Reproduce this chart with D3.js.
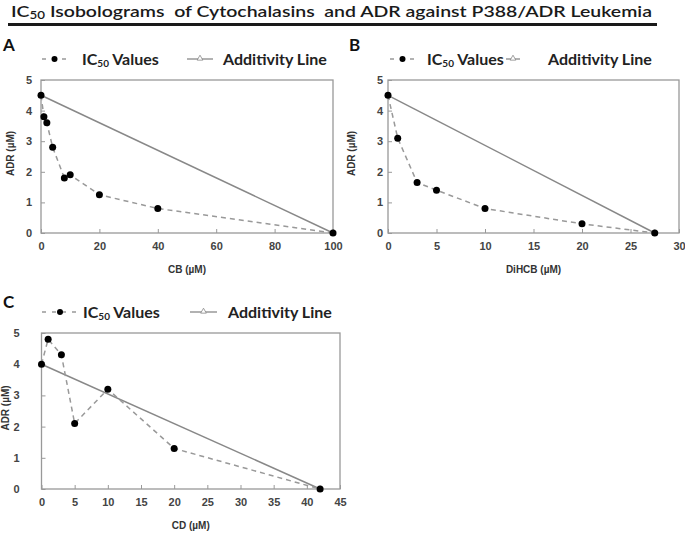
<!DOCTYPE html>
<html>
<head>
<meta charset="utf-8">
<script src="https://cdn.jsdelivr.net/npm/d3@7"></script>
<style>
  body { margin: 0; background: #fff; }
  svg { display: block; }
</style>
</head>
<body>
<div id="mydiv"></div>
<script>
// ---- data ----
var cbDose = [0, 1, 2, 4, 8, 10, 20, 40, 100];
var cbAdr = [4.5, 3.8, 3.6, 2.8, 1.8, 1.9, 1.25, 0.8, 0];
var cbAdditivityX = [0, 100];
var cbAdditivityY = [4.5, 0];

var dihcbDose = [0, 1, 3, 5, 10, 20, 27.5];
var dihcbAdr = [4.5, 3.1, 1.65, 1.4, 0.8, 0.3, 0];
var dihcbAdditivityX = [0, 27.5];
var dihcbAdditivityY = [4.5, 0];

var cdDose = [0, 1, 3, 5, 10, 20, 42];
var cdAdr = [4.0, 4.8, 4.3, 2.1, 3.2, 1.3, 0];
var cdAdditivityX = [0, 42];
var cdAdditivityY = [4.0, 0];

var cbTicks = [0, 20, 40, 60, 80, 100];
var dihcbTicks = [0, 5, 10, 15, 20, 25, 30];
var cdTicks = [0, 5, 10, 15, 20, 25, 30, 35, 40, 45];
var adrTicks = [0, 1, 2, 3, 4, 5];

var titleText = "Isobolograms  of Cytochalasins  and ADR against P388/ADR Leukemia";

var width = 685, height = 533;

var svg = d3.select("#mydiv").append("svg")
  .attr("width", width)
  .attr("height", height)
  .style("background-color", "white");

// title
var title = svg.append("text")
  .attr("x", 11)
  .attr("y", 17)
  .style("white-space", "pre")
  .style("font-family", "Lato, 'Open Sans', sans-serif")
  .style("font-weight", "600")
  .style("font-size", "16px")
  .style("fill", "#1a1a1a");
title.append("tspan").text("IC");
title.append("tspan").attr("dy", 2).style("font-size", "11px").text("50");
title.append("tspan").attr("dy", -2).text(" " + titleText);
title.attr("textLength", 641).attr("lengthAdjust", "spacingAndGlyphs");

svg.append("line")
  .attr("x1", 8).attr("x2", 657)
  .attr("y1", 24.5).attr("y2", 24.5)
  .attr("stroke", "#1a1a1a")
  .attr("stroke-width", 3);

var panels = [
  { letter: "A", lx: 3, ly: 51, left: 41, right: 333, top: 80, bottom: 233,
    xMax: 100, ticks: cbTicks, xName: "CB (\u00b5M)", dose: cbDose, adr: cbAdr,
    addX: cbAdditivityX, addY: cbAdditivityY, yLabelGap: 9, yTitleX: 10,
    legY: 59, leg: [42, 67, 82, 187, 213, 223] },
  { letter: "B", lx: 349, ly: 51, left: 388, right: 679, top: 80, bottom: 233,
    xMax: 30, ticks: dihcbTicks, xName: "DiHCB (\u00b5M)", dose: dihcbDose, adr: dihcbAdr,
    addX: dihcbAdditivityX, addY: dihcbAdditivityY, yLabelGap: 5, yTitleX: 351,
    legY: 59, leg: [390, 415, 427, 506, 520, 548] },
  { letter: "C", lx: 3, ly: 308, left: 41.5, right: 340, top: 333, bottom: 489,
    xMax: 45, ticks: cdTicks, xName: "CD (\u00b5M)", dose: cdDose, adr: cdAdr,
    addX: cdAdditivityX, addY: cdAdditivityY, yLabelGap: 22, yTitleX: 5,
    legY: 312, leg: [42, 78, 83, 190, 217, 228] }
];

panels.forEach(function(p) {
  var x = d3.scaleLinear().domain([0, p.xMax]).range([p.left, p.right]);
  var y = d3.scaleLinear().domain([0, 5]).range([p.bottom, p.top]);

  // panel letter
  svg.append("text")
    .attr("x", p.lx).attr("y", p.ly)
    .style("font-family", "Lato, 'Open Sans', sans-serif")
    .style("font-weight", "bold")
    .style("font-size", "17px")
    .style("fill", "#111")
    .text(p.letter);

  // legend
  var g = svg.append("g");
  var l = p.leg;
  g.append("line")
    .attr("x1", l[0]).attr("x2", l[1]).attr("y1", p.legY).attr("y2", p.legY)
    .attr("stroke", "#999").attr("stroke-width", 1.5).attr("stroke-dasharray", "4,6");
  g.append("circle")
    .attr("cx", (l[0] + l[1]) / 2).attr("cy", p.legY).attr("r", 3)
    .style("fill", "black");
  var t1 = g.append("text")
    .attr("x", l[2]).attr("y", p.legY + 6)
    .style("font-family", "Lato, 'Open Sans', sans-serif")
    .style("font-weight", "bold")
    .style("font-size", "16px")
    .style("fill", "#222");
  t1.append("tspan").text("IC");
  t1.append("tspan").attr("dy", 2).style("font-size", "10px").text("50");
  t1.append("tspan").attr("dy", -2).text(" Values");

  g.append("line")
    .attr("x1", l[3]).attr("x2", l[4]).attr("y1", p.legY).attr("y2", p.legY)
    .attr("stroke", "#888").attr("stroke-width", 1.3);
  var tx = (l[3] + l[4]) / 2;
  g.append("path")
    .attr("d", d3.symbol().type(d3.symbolTriangle).size(14))
    .attr("transform", "translate(" + tx + "," + (p.legY - 0.5) + ")")
    .attr("fill", "white").attr("stroke", "#888").attr("stroke-width", 0.8);
  g.append("text")
    .attr("x", l[5]).attr("y", p.legY + 6)
    .style("font-family", "Lato, 'Open Sans', sans-serif")
    .style("font-weight", "bold")
    .style("font-size", "16px")
    .style("fill", "#222")
    .text("Additivity Line");

  // frame
  svg.append("rect")
    .attr("x", p.left).attr("y", p.top)
    .attr("width", p.right - p.left).attr("height", p.bottom - p.top)
    .attr("fill", "none").attr("stroke", "#999").attr("stroke-width", 1.3);

  // axes (inward ticks)
  var xa = svg.append("g")
    .attr("transform", "translate(0," + p.bottom + ")")
    .call(d3.axisBottom(x).tickValues(p.ticks).tickFormat(d3.format("d")).tickSize(-4).tickPadding(9));
  var ya = svg.append("g")
    .attr("transform", "translate(" + p.left + ",0)")
    .call(d3.axisLeft(y).tickValues(adrTicks).tickFormat(d3.format("d")).tickSize(-4).tickPadding(p.yLabelGap));
  [xa, ya].forEach(function(a) {
    a.select(".domain").remove();
    a.selectAll("line").attr("stroke", "#999").attr("stroke-width", 1);
    a.selectAll("text")
      .style("font-family", "'Liberation Sans', Arial, sans-serif")
      .style("font-weight", "bold")
      .style("font-size", "11px")
      .style("fill", "#444");
  });

  // axis titles
  svg.append("text")
    .attr("x", (p.left + p.right) / 2).attr("y", p.bottom + 40)
    .attr("text-anchor", "middle")
    .style("font-family", "'Liberation Sans', Arial, sans-serif")
    .style("font-weight", "bold")
    .style("font-size", "10px")
    .style("fill", "#333")
    .text(p.xName);
  svg.append("text")
    .attr("transform", "translate(" + (p.yTitleX + 3.5) + "," + ((p.top + p.bottom) / 2 - 3) + ") rotate(-90)")
    .attr("text-anchor", "middle")
    .style("font-family", "'Liberation Sans', Arial, sans-serif")
    .style("font-weight", "bold")
    .style("font-size", "10px")
    .style("fill", "#333")
    .text("ADR (\u00b5M)");

  // additivity line
  var addPts = p.addX.map(function(d, i) { return [d, p.addY[i]]; });
  var lineGen = d3.line().x(function(d) { return x(d[0]); }).y(function(d) { return y(d[1]); });
  svg.append("path")
    .attr("d", lineGen(addPts))
    .attr("fill", "none").attr("stroke", "#888").attr("stroke-width", 1.5);
  svg.selectAll(null)
    .data(addPts).enter().append("path")
    .attr("d", d3.symbol().type(d3.symbolTriangle).size(14))
    .attr("transform", function(d) { return "translate(" + x(d[0]) + "," + y(d[1]) + ")"; })
    .attr("fill", "white").attr("stroke", "#888").attr("stroke-width", 0.8);

  // IC50 values
  var pts = p.dose.map(function(d, i) { return [d, p.adr[i]]; });
  svg.append("path")
    .attr("d", lineGen(pts))
    .attr("fill", "none").attr("stroke", "#999").attr("stroke-width", 1.5)
    .attr("stroke-dasharray", "5,4");
  svg.selectAll(null)
    .data(pts).enter().append("circle")
    .attr("cx", function(d) { return x(d[0]); })
    .attr("cy", function(d) { return y(d[1]); })
    .attr("r", 3.5)
    .style("fill", "black");
});
</script>
</body>
</html>
